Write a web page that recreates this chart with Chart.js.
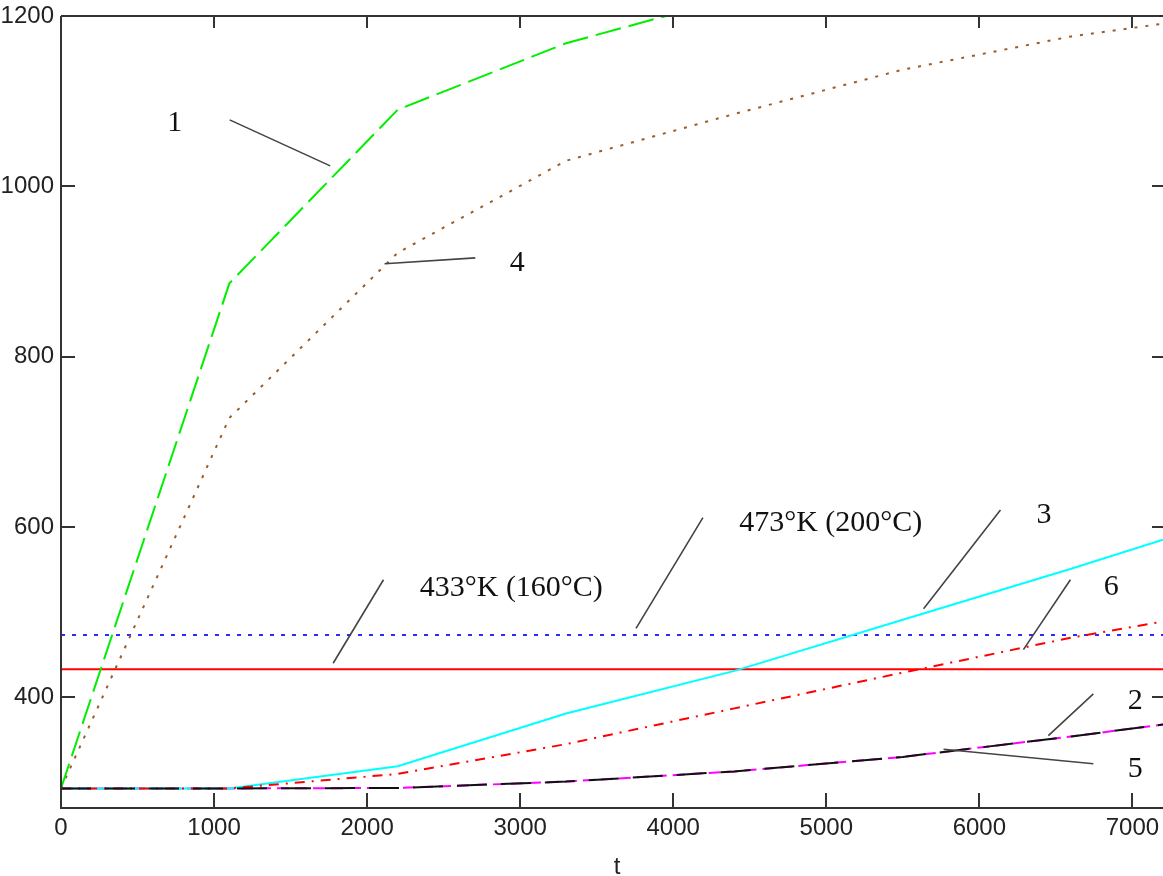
<!DOCTYPE html>
<html>
<head>
<meta charset="utf-8">
<script src="https://cdn.jsdelivr.net/npm/chart.js@4.4.1/dist/chart.umd.min.js"></script>
<style>
  html, body { margin: 0; padding: 0; background: #fff; overflow: hidden; }
</style>
</head>
<body>
<canvas id="hxChart" width="1163" height="876"></canvas>
<script>
// tick values
const tTicks = [0, 1000, 2000, 3000, 4000, 5000, 6000, 7000];
const tempTicks = [400, 600, 800, 1000, 1200];

// curves (t in s, temperature in K)
const tCurve1 = [0, 1100, 2200, 3300, 4400];
const temp1 = [293, 886, 1090, 1168, 1222];

const tCurves = [0, 1100, 2200, 3300, 4400, 5500, 6600, 7200];
const temp4 = [293, 728, 922, 1030, 1085, 1137, 1176, 1191];
const temp3 = [293, 293, 319, 381, 431, 491, 551, 585];
const temp6 = [293, 293, 310, 345, 387, 429, 470, 489];
const temp5 = [293, 293, 293.5, 301, 313, 330, 354, 368];
const temp2 = [293, 293, 293.5, 301, 313, 330, 354, 368];

// limit lines
const tLimit = [0, 7200];
const temp160 = [433, 433];
const temp200 = [473, 473];

// callout labels: text, anchor (t, K), leader line from / to (t, K)
const noteText = ["1", "4", "433°K (160°C)", "473°K (200°C)", "3", "6", "2", "5"];
const noteAt = [[744, 1074], [2981, 910], [2942, 528], [5029, 604], [6423, 614], [6862, 529], [7019, 396], [7019, 316]];
const noteFrom = [[1102, 1078], [2114, 909], [1778, 440], [3757, 481], [5636, 504], [6288, 456], [6451, 355], [5766, 339]];
const noteTo = [[1759, 1024], [2707, 916], [2107, 538], [4194, 611], [6138, 620], [6595, 538], [6745, 404], [6745, 322]];

const pts = (xs, ys) => xs.map((x, i) => ({ x: x, y: ys[i] }));

function line(data, color, dash) {
  return {
    data: data,
    borderColor: color,
    borderWidth: 2,
    borderDash: dash,
    pointRadius: 0,
    tension: 0,
    fill: false
  };
}

const axisFont = { family: '"Liberation Sans Narrow", "Liberation Sans", Arial, sans-serif', size: 24 };

const frame = {
  id: 'frame',
  afterDatasetsDraw(chart) {
    const { ctx, chartArea: a, scales: { x, y } } = chart;
    ctx.save();
    ctx.strokeStyle = '#333';
    ctx.lineWidth = 2;
    ctx.beginPath();
    ctx.moveTo(a.left, a.top); ctx.lineTo(a.right, a.top);
    ctx.moveTo(a.left, a.top); ctx.lineTo(a.left, a.bottom); ctx.lineTo(a.right, a.bottom);
    x.ticks.forEach(t => {
      const px = Math.round(x.getPixelForValue(t.value));
      if (px <= a.left + 1) return;
      ctx.moveTo(px, a.bottom); ctx.lineTo(px, a.bottom - 15);
      ctx.moveTo(px, a.top); ctx.lineTo(px, a.top + 12);
    });
    y.ticks.forEach(t => {
      const py = Math.round(y.getPixelForValue(t.value));
      if (py <= a.top + 1) return;
      ctx.moveTo(a.left, py); ctx.lineTo(a.left + 14, py);
      ctx.moveTo(a.right, py); ctx.lineTo(a.right - 11, py);
    });
    ctx.stroke();

    // callout leaders
    ctx.strokeStyle = '#444';
    ctx.lineWidth = 1.6;
    ctx.beginPath();
    noteFrom.forEach((f, i) => {
      ctx.moveTo(x.getPixelForValue(f[0]), y.getPixelForValue(f[1]));
      ctx.lineTo(x.getPixelForValue(noteTo[i][0]), y.getPixelForValue(noteTo[i][1]));
    });
    ctx.stroke();

    ctx.fillStyle = '#111';
    ctx.font = '30px "Liberation Serif", "Times New Roman", serif';
    ctx.textAlign = 'center';
    ctx.textBaseline = 'middle';
    noteText.forEach((s, i) => {
      ctx.fillText(s, x.getPixelForValue(noteAt[i][0]), y.getPixelForValue(noteAt[i][1]));
    });

    // axis name
    ctx.font = '24px ' + axisFont.family;
    ctx.fillStyle = '#222';
    ctx.textBaseline = 'alphabetic';
    ctx.fillText('t', (a.left + a.right) / 2 + 5, 874);
    ctx.restore();
  }
};

new Chart(document.getElementById('hxChart').getContext('2d'), {
  type: 'line',
  data: {
    datasets: [
      line(pts(tCurves, temp5), '#111', [30, 14]),
      line(pts(tCurves, temp6), '#ff0000', [10, 7, 2, 7]),
      line(pts(tCurves, temp3), '#00ffff', []),
      line(pts(tCurves, temp2), '#ff00ff', [12, 6]),
      line(pts(tCurve1, temp1), '#00ee00', [26, 8]),
      line(pts(tCurves, temp4), '#9a5c2a', [3, 8]),
      line(pts(tLimit, temp200), '#2b2bff', [4, 7]),
      line(pts(tLimit, temp160), '#ff0000', [])
    ]
  },
  options: {
    responsive: false,
    animation: false,
    devicePixelRatio: 1,
    layout: { padding: { top: 16, right: 0, left: 0, bottom: 0 } },
    plugins: { legend: { display: false }, tooltip: { enabled: false } },
    scales: {
      x: {
        type: 'linear',
        min: 0,
        max: 7200,
        grid: { display: false, drawTicks: false },
        border: { display: false },
        afterBuildTicks: s => { s.ticks = tTicks.map(v => ({ value: v })); },
        afterFit: s => { s.height = 68; s.paddingLeft = 0; s.paddingRight = 0; },
        ticks: {
          font: axisFont,
          color: '#222',
          padding: 6,
          maxRotation: 0,
          autoSkip: false,
          callback: v => String(v)
        }
      },
      y: {
        type: 'linear',
        min: 270,
        max: 1200,
        grid: { display: false, drawTicks: false },
        border: { display: false },
        afterBuildTicks: s => { s.ticks = tempTicks.map(v => ({ value: v })); },
        afterFit: s => { s.width = 61; s.paddingTop = 0; s.paddingBottom = 0; },
        ticks: {
          font: axisFont,
          color: '#222',
          padding: 7,
          autoSkip: false,
          callback: v => String(v)
        }
      }
    }
  },
  plugins: [frame]
});
</script>
</body>
</html>
